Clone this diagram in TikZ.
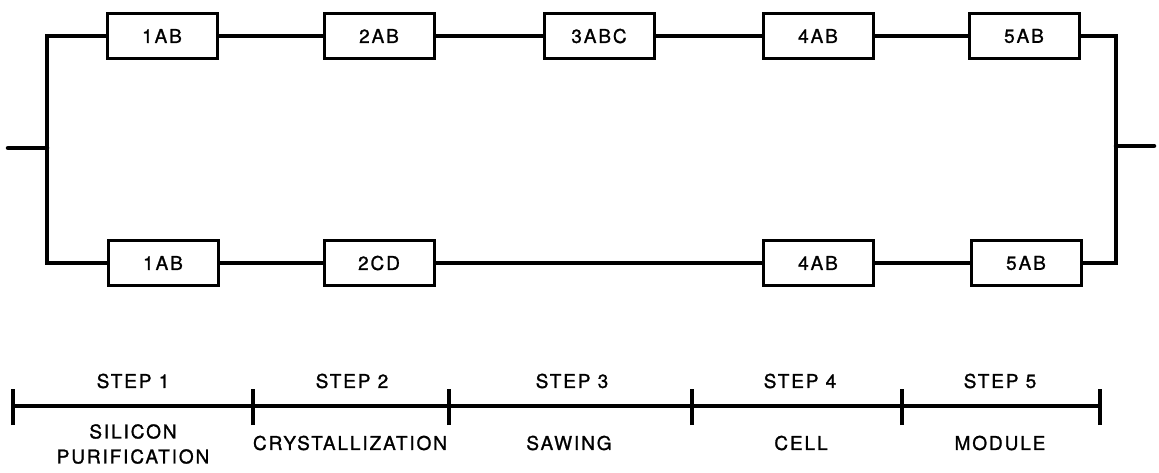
\documentclass[tikz,border=0pt]{standalone}
\usepackage{fontspec}
\setmainfont{TeX Gyre Heros}[LetterSpace=10,FakeBold=1.2]
\tikzset{
  procbox/.style={draw, line width=3pt, minimum width=110pt, minimum height=45pt, inner sep=0pt, font=\fontsize{19}{22}\selectfont},
  wire/.style={line width=4.5pt, line cap=round, line join=miter},
  timeline/.style={line width=3.5pt},
  lbl/.style={font=\fontsize{19}{22}\selectfont, inner sep=0pt, align=center}
}
\begin{document}
\begin{tikzpicture}[x=1pt,y=-1pt]
\useasboundingbox (0,0) rectangle (1159,472);
% top row
\node[procbox] (t1) at (162,36) {1AB};
\node[procbox] (t2) at (379,36) {2AB};
\node[procbox] (t3) at (599,36) {3ABC};
\node[procbox] (t4) at (818,36) {4AB};
\node[procbox] (t5) at (1024,36) {5AB};
% bottom row
\node[procbox] (b1) at (163,263) {1AB};
\node[procbox] (b2) at (379,263) {2CD};
\node[procbox] (b4) at (818,263) {4AB};
\node[procbox] (b5) at (1026,263) {5AB};
% junction coordinates
\coordinate (lt) at (47,36);
\coordinate (lb) at (47,263);
\coordinate (lm) at (47,148);
\coordinate (lin) at (8,148);
\coordinate (rt) at (1116,36);
\coordinate (rb) at (1116,263);
\coordinate (rm) at (1116,146);
\coordinate (rout) at (1154,146);
% wiring
\draw[wire] (t1.west) -- (lt) -- (lb) -- (b1.west);
\draw[wire] (lin) -- (lm);
\draw[wire] (t5.east) -- (rt) -- (rb) -- (b5.east);
\draw[wire] (rm) -- (rout);
\draw[wire] (t1) -- (t2);
\draw[wire] (t2) -- (t3);
\draw[wire] (t3) -- (t4);
\draw[wire] (t4) -- (t5);
\draw[wire] (b1) -- (b2);
\draw[wire] (b2) -- (b4);
\draw[wire] (b4) -- (b5);
% timeline
\coordinate (s0) at (13,406);
\coordinate (s1) at (253,406);
\coordinate (s2) at (449,406);
\coordinate (s3) at (692,406);
\coordinate (s4) at (902,406);
\coordinate (s5) at (1100,406);
\draw[timeline] (s0) -- (s5);
\foreach \c in {s0,s1,s2,s3,s4,s5} \draw[timeline] ([yshift=-19pt]\c) -- ([yshift=17pt]\c);
% labels
\node[lbl] (st1) at (133,381) {STEP 1};
\node[lbl] (st2) at (352,381) {STEP 2};
\node[lbl] (st3) at (572,381) {STEP 3};
\node[lbl] (st4) at (800,381) {STEP 4};
\node[lbl] (st5) at (1000,381) {STEP 5};
\node[lbl] (n1) at (133,444) {SILICON\\[3pt]PURIFICATION};
\node[lbl] (n2) at (350,443) {CRYSTALLIZATION};
\node[lbl] (n3) at (569,443) {SAWING};
\node[lbl] (n4) at (801,443) {CELL};
\node[lbl] (n5) at (1000,443) {MODULE};
\end{tikzpicture}
\end{document}
